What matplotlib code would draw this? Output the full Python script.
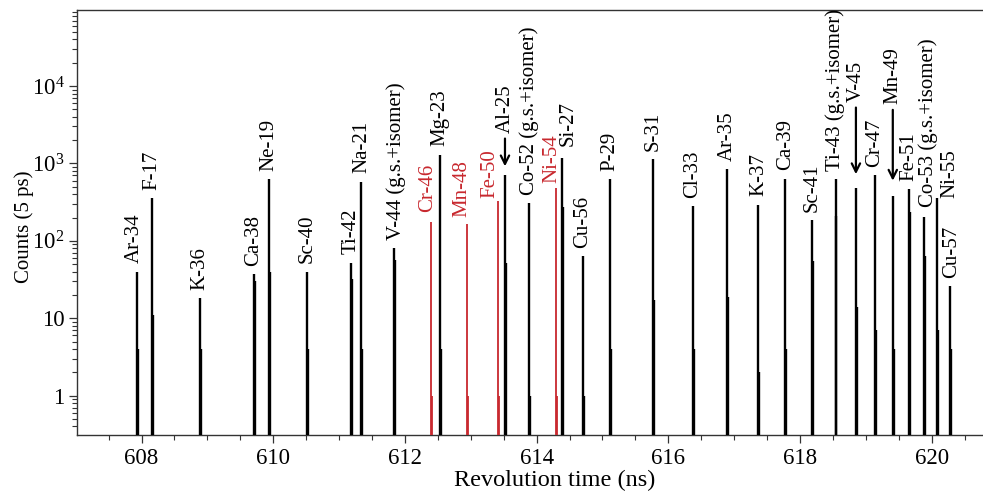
import math

import matplotlib
matplotlib.use("Agg")
import matplotlib.pyplot as plt
import matplotlib.ticker as mticker

plt.rcParams["font.family"] = ["Liberation Serif", "DejaVu Serif"]
plt.rcParams["mathtext.fontset"] = "custom"
plt.rcParams["mathtext.rm"] = "Liberation Serif"
plt.rcParams["mathtext.it"] = "Liberation Serif:italic"

# ── Peak data ────────────────────────────────────────────────────────────────
nuclides = [
    "Ar-34", "F-17", "K-36", "Ca-38", "Ne-19", "Sc-40", "Ti-42", "Na-21",
    "V-44 (g.s.+isomer)", "Cr-46", "Mg-23", "Mn-48", "Fe-50", "Al-25",
    "Co-52 (g.s.+isomer)", "Ni-54", "Si-27", "Cu-56", "P-29", "S-31",
    "Cl-33", "Ar-35", "K-37", "Ca-39", "Sc-41", "Ti-43 (g.s.+isomer)",
    "V-45", "Cr-47", "Mn-49", "Fe-51", "Co-53 (g.s.+isomer)", "Ni-55", "Cu-57",
]
rev_time = [
    607.93, 608.16, 608.89, 609.71, 609.94, 610.51, 611.18, 611.34,
    611.83, 612.40, 612.53, 612.94, 613.41, 613.52,
    613.89, 614.29, 614.38, 614.70, 615.12, 615.77,
    616.37, 616.89, 617.37, 617.78, 618.19, 618.54,
    618.85, 619.14, 619.41, 619.65, 619.88, 620.08, 620.28,
]
peak_counts = [
    40, 355, 18, 37, 620, 40, 52, 580,
    80, 175, 1300, 166, 330, 716,
    308, 486, 1170, 63, 620, 1130,
    281, 838, 293, 635, 186, 620,
    480, 705, 380, 465, 203, 360, 26,
]
# second (neighbouring) bin of each peak
side_counts = [
    4, 11, 4, 30, 40, 4, 32, 4,
    57, 1, 4, 1, 1, 52,
    1, 1, 270, 1, 4, 17,
    4, 19, 2, 4, 55, 208,
    14, 7, 4, 235, 63, 7, 4,
]
new_nuclides = ["Cr-46", "Mn-48", "Fe-50", "Ni-54"]

# label offsets in points (dx, dy) where the default would collide
LABEL_SHIFT = {
    "Ar-34": (-2, 6), "Cr-46": (-2.7, 7), "Mn-48": (-3.6, 5),
    "Fe-50": (-5.8, 2), "Ni-54": (-3, 3.6), "Si-27": (5, 8.6),
    "V-44 (g.s.+isomer)": (1.4, 6), "Co-53 (g.s.+isomer)": (3, 7.5),
    "Ni-55": (9.4, 0), "Cu-57": (1, 6),
}
# label height (points) and arrow gap for peaks marked with an arrow
ARROWS = {"Al-25": (30, 6), "V-45": (62, 10), "Mn-49": (66, 11)}

BLACK = "#000000"
RED = "#C8282E"
FS = 15

fig = plt.figure(figsize=(9.83, 4.93), dpi=100)
ax = fig.add_axes([77 / 983, 58 / 493, 906 / 983, 425 / 493])

for name, t, c, s in zip(nuclides, rev_time, peak_counts, side_counts):
    col = RED if name in new_nuclides else BLACK
    lw = 1.3 if col == RED else 1.7
    ax.vlines(t, 0.01, c, color=col, lw=lw, zorder=3)
    ax.vlines(t + 0.014, 0.01, s, color=col, lw=lw, zorder=3)

    if name in ARROWS:
        off, gap = ARROWS[name]
        ax.annotate(
            name, xy=(t, c), xytext=(0, off), textcoords="offset points",
            rotation=90, ha="center", va="bottom", fontsize=FS, color=col,
            arrowprops=dict(arrowstyle="->", lw=1.6, color=BLACK,
                            shrinkA=2, shrinkB=gap, mutation_scale=15),
        )
    else:
        dx, dy = LABEL_SHIFT.get(name, (0, 6))
        ax.annotate(
            name, xy=(t, c), xytext=(dx, dy), textcoords="offset points",
            rotation=90, ha="center", va="bottom", fontsize=FS, color=col,
        )

# ── Axes formatting ──────────────────────────────────────────────────────────
ax.set_yscale("log")
ax.set_ylim(0.31, 9.6e4)
ax.set_xlim(607.02, 620.78)

ax.xaxis.set_major_locator(mticker.MultipleLocator(2))
ax.xaxis.set_minor_locator(mticker.MultipleLocator(0.5))
ax.yaxis.set_major_locator(mticker.LogLocator(base=10, numticks=10))
ax.yaxis.set_minor_locator(mticker.LogLocator(base=10, subs=range(2, 10), numticks=10))


def _fmt_counts(v, _):
    n = int(round(math.log10(v)))
    if n == 0:
        return "1"
    if n == 1:
        return "10"
    return rf"$\mathregular{{10^{n}}}$"


ax.yaxis.set_major_formatter(mticker.FuncFormatter(_fmt_counts))
ax.yaxis.set_minor_formatter(mticker.NullFormatter())

ax.tick_params(axis="both", which="major", direction="out", length=6,
               width=0.9, labelsize=16.5, color="#333333", pad=3)
ax.tick_params(axis="both", which="minor", direction="out", length=3.5,
               width=0.8, color="#333333")

for side in ["left", "bottom", "top"]:
    ax.spines[side].set_linewidth(1.0)
    ax.spines[side].set_color("#333333")
ax.spines["right"].set_visible(False)

ax.set_xlabel("Revolution time (ns)", fontsize=17.5)
ax.xaxis.set_label_coords((555 - 77) / 906, -0.082)
ax.set_ylabel("Counts (5 ps)", fontsize=FS)
ax.yaxis.set_label_coords(-0.048, 0.49)

fig.savefig("out.png", dpi=100, facecolor="white")
